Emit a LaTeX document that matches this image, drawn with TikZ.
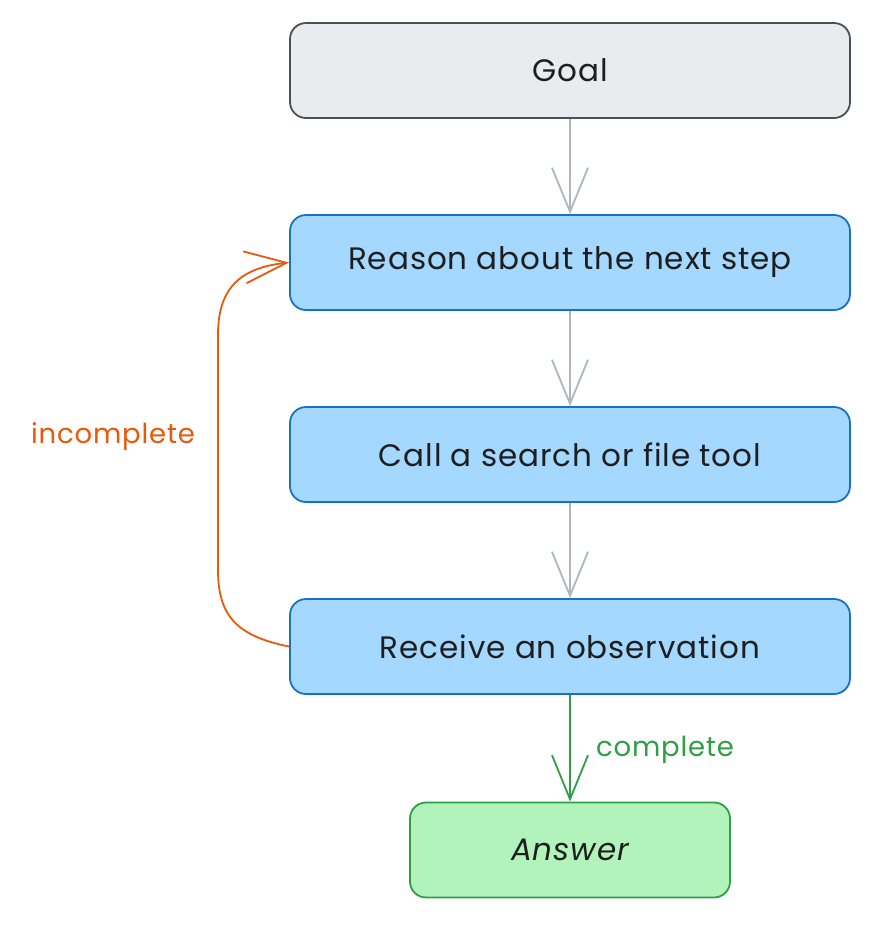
\documentclass[tikz,border=0pt]{standalone}
\usepackage{fontspec}
\setmainfont{Poppins}[LetterSpace=3]
\usetikzlibrary{arrows.meta}
\definecolor{gfill}{HTML}{E9ECEF}
\definecolor{gline}{HTML}{495057}
\definecolor{bfill}{HTML}{A5D8FF}
\definecolor{bline}{HTML}{1971C2}
\definecolor{afill}{HTML}{B2F2BB}
\definecolor{aline}{HTML}{2F9E44}
\definecolor{oline}{HTML}{E8590C}
\definecolor{arrgray}{HTML}{ADB5BD}
\definecolor{txt}{HTML}{1E1E1E}
\tikzset{
  boxbase/.style={rectangle, rounded corners=16pt, line width=1.8pt, minimum height=95pt,
    text=txt, font=\fontsize{31}{34}\selectfont, inner sep=0pt},
  goalbox/.style={boxbase, fill=gfill, draw=gline, minimum width=560pt},
  stepbox/.style={boxbase, fill=bfill, draw=bline, minimum width=560pt},
  answerbox/.style={boxbase, fill=afill, draw=aline, minimum width=320pt, font=\itshape\fontsize{31}{34}\selectfont},
  barb/.style={-{Straight Barb[length=44pt,width=36pt,line width=1.8pt]}},
  grayarrow/.style={barb, draw=arrgray, line width=1.8pt},
  greenarrow/.style={barb, draw=aline, line width=1.8pt},
  orangearrow/.style={-{Straight Barb[length=42pt,width=32pt,line width=1.8pt]}, draw=oline, line width=1.8pt},
  lbl/.style={font=\fontsize{27.5}{30}\selectfont, inner sep=0pt}
}
\begin{document}
\begin{tikzpicture}[x=1pt,y=-1pt]
\useasboundingbox (0,0) rectangle (890,930);
\node[goalbox] (goal) at (570,70.5) {Goal};
\node[stepbox] (reason) at (570,262.5) {Reason about the next step};
\node[stepbox] (call) at (570,454.5) {Call a search or file tool};
\node[stepbox] (recv) at (570,646.5) {Receive an observation};
\node[answerbox] (answer) at (570,850) {Answer};
\draw[grayarrow] (goal.south) -- (reason.north);
\draw[grayarrow] (reason.south) -- (call.north);
\draw[grayarrow] (call.south) -- (recv.north);
\draw[greenarrow] (recv.south) -- (answer.north);
\coordinate (lb) at (218,570);
\coordinate (lt) at (218,335);
\draw[orangearrow] (recv.west) .. controls (236,636) and (218,615) .. (lb) -- (lt) .. controls (218,290) and (238,268) .. (reason.west);
\node[lbl, text=oline] (inc) at (113,437) {incomplete};
\node[lbl, text=aline] (comp) at (665,750) {complete};
\end{tikzpicture}
\end{document}
